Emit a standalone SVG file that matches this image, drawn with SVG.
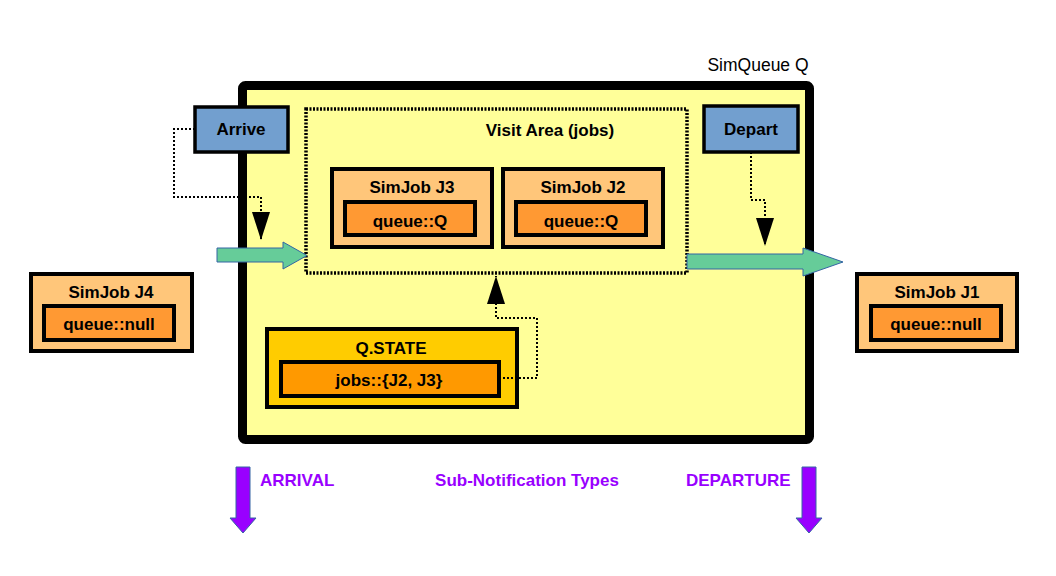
<svg xmlns="http://www.w3.org/2000/svg" width="1056" height="576" viewBox="0 0 1056 576">
<defs>
<style>
text{font-family:"Liberation Sans",Arial,sans-serif;font-size:17px;font-weight:bold;text-anchor:middle;fill:#000}
.job{fill:#ffc67a;stroke:#000;stroke-width:4}
.q{fill:#ff9933;stroke:#000;stroke-width:4}
.blue{fill:#729fcf;stroke:#000;stroke-width:3.5}
.dot{fill:none;stroke:#000;stroke-width:2;stroke-dasharray:2 2}
.green{fill:#66cc99;stroke:#3465a4;stroke-width:1}
.purple{fill:#9900ff;stroke:#3465a4;stroke-width:1}
.ptext{fill:#9900ff;text-anchor:start}
</style>
<marker id="ah" viewBox="0 0 28 18" refX="28" refY="9" markerWidth="28" markerHeight="18" markerUnits="userSpaceOnUse" orient="auto">
<path d="M0,0 L28,9 L0,18 Z" fill="#000"/>
</marker>
</defs>
<rect width="1056" height="576" fill="#fff"/>

<g id="simqueue">
<rect x="242.5" y="85.5" width="567" height="354" rx="3" fill="#ffff99" stroke="#000" stroke-width="9"/>
<text x="758" y="71" style="font-weight:normal;font-size:17.5px">SimQueue Q</text>
</g>

<g id="visit-area">
<rect x="306" y="109" width="381" height="164" fill="none" stroke="#000" stroke-width="3.5" stroke-dasharray="2 1.5"/>
<text x="550" y="136">Visit Area (jobs)</text>
</g>

<g id="arrive">
<rect class="blue" x="195" y="107" width="93" height="45"/>
<text x="241" y="135">Arrive</text>
</g>

<g id="depart">
<rect class="blue" x="704" y="106" width="94" height="46"/>
<text x="751" y="135">Depart</text>
</g>

<g id="simjob-j3">
<rect class="job" x="332" y="169" width="160" height="78"/>
<text x="412" y="193">SimJob J3</text>
<rect class="q" x="345" y="202" width="130" height="33"/>
<text x="410" y="227">queue::Q</text>
</g>

<g id="simjob-j2">
<rect class="job" x="503" y="169" width="160" height="78"/>
<text x="583" y="193">SimJob J2</text>
<rect class="q" x="516" y="202" width="130" height="33"/>
<text x="581" y="227">queue::Q</text>
</g>

<g id="simjob-j4">
<rect class="job" x="31" y="274" width="161" height="77"/>
<text x="111" y="298">SimJob J4</text>
<rect class="q" x="44" y="306" width="130" height="34"/>
<text x="109" y="330">queue::null</text>
</g>

<g id="simjob-j1">
<rect class="job" x="857" y="274" width="160" height="77"/>
<text x="937" y="298">SimJob J1</text>
<rect class="q" x="871" y="306" width="130" height="34"/>
<text x="936" y="330">queue::null</text>
</g>

<g id="q-state">
<rect x="267" y="329" width="250" height="78" fill="#ffcc00" stroke="#000" stroke-width="4"/>
<text x="391" y="354">Q.STATE</text>
<rect x="281" y="362" width="218" height="34" fill="#ff9900" stroke="#000" stroke-width="4"/>
<text x="389" y="386">jobs::{J2, J3}</text>
</g>

<g id="connectors">
<polyline class="dot" points="195,129 174,129 174,197 261,197 261,240" marker-end="url(#ah)"/>
<polyline class="dot" points="751,152 751,200 765,200 765,246" marker-end="url(#ah)"/>
<polyline class="dot" points="499,378 537,378 537,318 496,318 496,276" marker-end="url(#ah)"/>
<path class="green" d="M217,248 L283,248 L283,242 L307,255.5 L283,269 L283,262 L217,262 Z"/>
<path class="green" d="M687,254 L803,254 L803,248 L843,262 L803,276 L803,269 L687,269 Z"/>
<path class="purple" d="M236,467 L250,467 L250,518 L256,518 L243,533 L230,518 L236,518 Z"/>
<path class="purple" d="M802,467 L816,467 L816,518 L822,518 L809,533 L796,518 L802,518 Z"/>
</g>

<g id="labels">
<text class="ptext" x="260" y="486">ARRIVAL</text>
<text class="ptext" x="527" y="486" style="text-anchor:middle">Sub-Notification Types</text>
<text class="ptext" x="686" y="486">DEPARTURE</text>
</g>
</svg>
